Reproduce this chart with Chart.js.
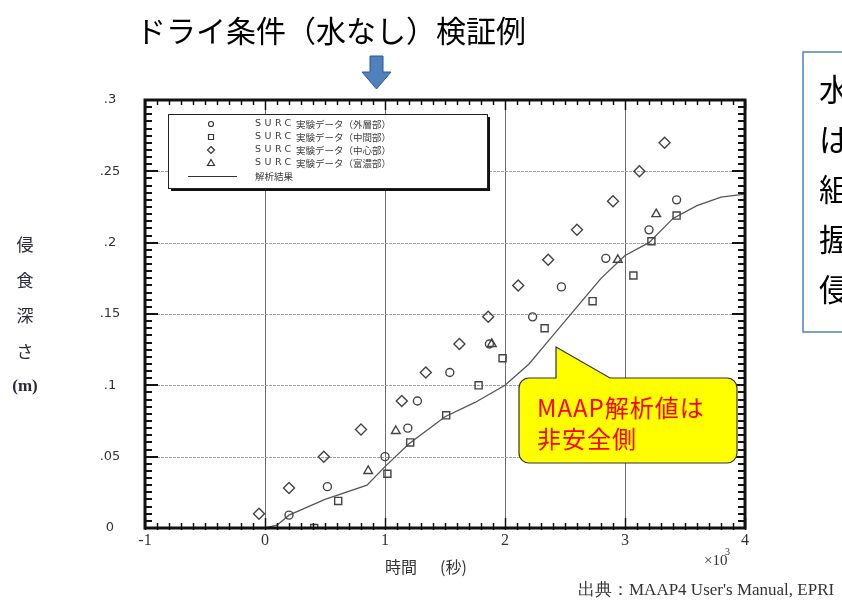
<!DOCTYPE html>
<html lang="ja">
<head>
<meta charset="UTF-8">
<script src="https://cdn.jsdelivr.net/npm/chart.js@4.4.0/dist/chart.umd.min.js"></script>
<style>
    html, body { margin: 0; padding: 0; background: #fff; }
    #wrap { position: relative; width: 842px; height: 603px; }
</style>
</head>
<body>
<div id="wrap"><canvas id="erosionChart" width="842" height="603"></canvas></div>
<script>
// ドライ条件（水なし）検証例 - SURC 実験データ vs MAAP 解析結果

// --- データ (時間 ×10^3 秒, 侵食深さ m) ---
const outerX  = [0.20, 0.52, 1.00, 1.19, 1.27, 1.54, 1.87, 2.23, 2.47, 2.84, 3.20, 3.43];
const outerY  = [0.009, 0.029, 0.050, 0.070, 0.089, 0.109, 0.129, 0.148, 0.169, 0.189, 0.209, 0.230];
const midX    = [0.41, 0.61, 1.02, 1.21, 1.51, 1.78, 1.98, 2.33, 2.73, 3.07, 3.22, 3.43];
const midY    = [0.000, 0.019, 0.038, 0.060, 0.079, 0.100, 0.119, 0.140, 0.159, 0.177, 0.201, 0.219];
const centerX = [-0.05, 0.20, 0.49, 0.80, 1.14, 1.34, 1.62, 1.86, 2.11, 2.36, 2.60, 2.90, 3.12, 3.33];
const centerY = [0.010, 0.028, 0.050, 0.069, 0.089, 0.109, 0.129, 0.148, 0.170, 0.188, 0.209, 0.229, 0.250, 0.270];
const richX   = [0.86, 1.09, 1.89, 2.94, 3.26];
const richY   = [0.040, 0.068, 0.129, 0.188, 0.220];
const analysisX = [0.00, 0.10, 0.20, 0.50, 0.85, 1.00, 1.20, 1.50, 1.75, 2.00, 2.20, 2.40, 2.60, 2.80, 3.00, 3.20, 3.40, 3.60, 3.80, 4.00];
const analysisY = [0.000, 0.002, 0.009, 0.020, 0.030, 0.043, 0.059, 0.078, 0.088, 0.100, 0.115, 0.135, 0.155, 0.175, 0.191, 0.200, 0.217, 0.226, 0.232, 0.234];

// --- 軸ラベル ---
const xTicks = [-1, 0, 1, 2, 3, 4];
const xTickLabels = ['-1', '0', '1', '2', '3', '4'];
const yTicks = [0, 0.05, 0.1, 0.15, 0.2, 0.25, 0.3];
const yTickLabels = ['0', '.05', '.1', '.15', '.2', '.25', '.3'];
const yTitleChars = ['侵', '食', '深', 'さ', '(m)'];

// --- 凡例 ---
const legendLabels = ['（外層部）', '（中間部）', '（中心部）', '（富濃部）'];
const legendShapes = ['circle', 'square', 'diamond', 'triangle'];

const toPoints = (xs, ys) => xs.map((x, i) => ({ x: x, y: ys[i] }));

// 凡例用の簡単なマーカー描画
function drawMarker(ctx, shape, x, y, r) {
    ctx.beginPath();
    if (shape === 'circle') {
        ctx.arc(x, y, r, 0, Math.PI * 2);
    } else if (shape === 'square') {
        ctx.rect(x - r, y - r, r * 2, r * 2);
    } else if (shape === 'diamond') {
        ctx.moveTo(x, y - r - 1); ctx.lineTo(x + r + 1, y); ctx.lineTo(x, y + r + 1); ctx.lineTo(x - r - 1, y); ctx.closePath();
    } else {
        ctx.moveTo(x, y - r - 1); ctx.lineTo(x + r + 1, y + r); ctx.lineTo(x - r - 1, y + r); ctx.closePath();
    }
    ctx.stroke();
}

const gridPlugin = {
    id: 'gridPlugin',
    beforeDatasetsDraw(chart) {
        const { ctx, chartArea: a, scales: { x, y } } = chart;
        ctx.save();
        // 縦グリッド
        ctx.strokeStyle = '#6d6d6d';
        ctx.lineWidth = 1;
        [0, 1, 2, 3].forEach(v => {
            const px = Math.round(x.getPixelForValue(v)) + 0.5;
            ctx.beginPath(); ctx.moveTo(px, a.top); ctx.lineTo(px, a.bottom); ctx.stroke();
        });
        // 横グリッド (点線)
        ctx.strokeStyle = '#a0a0a0';
        ctx.setLineDash([3, 1]);
        [0.05, 0.1, 0.15, 0.2, 0.25].forEach(v => {
            const py = Math.round(y.getPixelForValue(v)) + 0.5;
            ctx.beginPath(); ctx.moveTo(a.left, py); ctx.lineTo(a.right, py); ctx.stroke();
        });
        ctx.restore();
    }
};

const decorPlugin = {
    id: 'decorPlugin',
    afterDatasetsDraw(chart) {
        const { ctx, chartArea: a, scales: { x, y } } = chart;
        ctx.save();

        // --- 枠と目盛 ---
        ctx.strokeStyle = '#111';
        ctx.lineWidth = 1.5;
        for (let i = -10; i <= 40; i++) {
            const px = Math.round(x.getPixelForValue(i / 10)) + 0.5;
            const len = i % 10 === 0 ? 10 : 5;
            ctx.beginPath();
            ctx.moveTo(px, a.bottom + 2); ctx.lineTo(px, a.bottom - len);
            ctx.moveTo(px, a.top); ctx.lineTo(px, a.top + len);
            ctx.stroke();
        }
        ctx.lineWidth = 2;
        for (let i = 0; i <= 60; i++) {
            const py = Math.round(y.getPixelForValue(i * 0.005));
            const len = i % 10 === 0 ? 13 : 7;
            ctx.beginPath();
            ctx.moveTo(a.left, py); ctx.lineTo(a.left + len, py);
            ctx.moveTo(a.right, py); ctx.lineTo(a.right - len, py);
            ctx.stroke();
        }
        ctx.lineWidth = 3;
        ctx.strokeRect(a.left, a.top, a.right - a.left, a.bottom - a.top);

        // --- 目盛ラベル ---
        ctx.fillStyle = '#333';
        ctx.textBaseline = 'middle';
        ctx.textAlign = 'center';
        ctx.font = '13px "DejaVu Sans"';
        yTicks.forEach((v, i) => ctx.fillText(yTickLabels[i], 110, y.getPixelForValue(v)));
        ctx.font = '16px "Liberation Serif"';
        xTicks.forEach((v, i) => ctx.fillText(xTickLabels[i], x.getPixelForValue(v), a.bottom + 13));
        ctx.font = '15px "Liberation Serif"';
        ctx.textAlign = 'left';
        ctx.fillText('×10', 704, 561);
        ctx.font = '10px "Liberation Serif"';
        ctx.fillText('3', 725, 552);

        // --- 軸タイトル ---
        ctx.textAlign = 'left';
        ctx.font = '16px "Noto Sans CJK JP"';
        ctx.fillText('時間', 385, 567);
        ctx.fillText('(秒)', 440, 567);
        ctx.textAlign = 'center';
        ctx.fillStyle = '#2a2a3a';
        yTitleChars.forEach((c, i) => {
            ctx.font = c === '(m)' ? 'bold 17px "Liberation Serif"' : '17px "Noto Sans CJK JP"';
            ctx.fillText(c, 25, 245 + i * 35.5);
        });

        // --- 凡例 ---
        ctx.fillStyle = '#111';
        ctx.fillRect(171, 117, 319, 74);
        ctx.fillStyle = '#fff';
        ctx.fillRect(168, 114, 319, 74);
        ctx.strokeStyle = '#222';
        ctx.lineWidth = 1;
        ctx.strokeRect(168.5, 114.5, 319, 74);
        ctx.strokeStyle = '#333';
        ctx.lineWidth = 1.2;
        legendShapes.forEach((s, i) => drawMarker(ctx, s, 211, 124 + i * 13, 2.5));
        ctx.beginPath(); ctx.moveTo(188, 176.5); ctx.lineTo(237, 176.5); ctx.stroke();
        ctx.fillStyle = '#3a3a3a';
        ctx.textAlign = 'left';
        legendLabels.forEach((t, i) => {
            const ty = 124 + i * 13;
            ctx.font = '9.5px "DejaVu Sans"';
            ctx.letterSpacing = '3.5px';
            ctx.fillText('SURC', 255, ty);
            ctx.letterSpacing = '0px';
            ctx.font = '9.5px "Noto Sans CJK JP"';
            ctx.fillText('実験データ' + t, 296, ty);
        });
        ctx.fillText('解析結果', 255, 176);

        // --- タイトルと矢印 ---
        ctx.fillStyle = '#000';
        ctx.textAlign = 'center';
        ctx.font = '30px "Noto Sans CJK JP"';
        ctx.fillText('ドライ条件（水なし）検証例', 331, 31);
        ctx.beginPath();
        ctx.moveTo(370, 56); ctx.lineTo(383, 56); ctx.lineTo(383, 72); ctx.lineTo(391, 72);
        ctx.lineTo(376.5, 89); ctx.lineTo(362, 72); ctx.lineTo(370, 72); ctx.closePath();
        ctx.fillStyle = '#4f81bd'; ctx.fill();
        ctx.strokeStyle = '#2f5597'; ctx.lineWidth = 1; ctx.stroke();

        // --- 右側の説明ボックス (一部のみ表示) ---
        ctx.strokeStyle = '#4f81bd';
        ctx.lineWidth = 1.5;
        ctx.strokeRect(803, 52, 60, 280);
        ctx.fillStyle = '#000';
        ctx.textAlign = 'left';
        ctx.font = '31px "Noto Sans CJK JP"';
        ['水', 'は', '組', '握', '侵'].forEach((c, i) => ctx.fillText(c, 819, 89 + i * 50));

        // --- 吹き出し ---
        ctx.beginPath();
        ctx.moveTo(529, 378);
        ctx.lineTo(556, 378); ctx.lineTo(556, 347); ctx.lineTo(610, 378);
        ctx.lineTo(727, 378);
        ctx.arcTo(737, 378, 737, 388, 10); ctx.lineTo(737, 453);
        ctx.arcTo(737, 463, 727, 463, 10); ctx.lineTo(529, 463);
        ctx.arcTo(519, 463, 519, 453, 10); ctx.lineTo(519, 388);
        ctx.arcTo(519, 378, 529, 378, 10); ctx.closePath();
        ctx.fillStyle = '#ffff00'; ctx.fill();
        ctx.strokeStyle = '#333'; ctx.lineWidth = 1.2; ctx.stroke();
        ctx.fillStyle = '#ff0000';
        ctx.font = '24px "Noto Sans CJK JP"';
        ctx.letterSpacing = '1px';
        ctx.fillText('MAAP解析値は', 537, 408);
        ctx.fillText('非安全側', 537, 439);
        ctx.letterSpacing = '0px';

        // --- 出典 ---
        ctx.fillStyle = '#333';
        ctx.font = '17px "Liberation Serif"';
        ctx.fillText('出典：MAAP4 User\'s Manual, EPRI', 578, 591);
        ctx.restore();
    }
};

const markerStyle = { borderColor: '#444', backgroundColor: 'rgba(0,0,0,0)', pointBorderWidth: 1.4, showLine: false };

new Chart(document.getElementById('erosionChart').getContext('2d'), {
    type: 'scatter',
    data: {
        datasets: [
            { label: '外層部', data: toPoints(outerX, outerY), pointStyle: 'circle', pointRadius: 4, ...markerStyle },
            { label: '中間部', data: toPoints(midX, midY), pointStyle: 'rect', pointRadius: 5, ...markerStyle },
            { label: '中心部', data: toPoints(centerX, centerY), pointStyle: 'rectRot', pointRadius: 5.5, ...markerStyle },
            { label: '富濃部', data: toPoints(richX, richY), pointStyle: 'triangle', pointRadius: 5, ...markerStyle },
            { label: '解析結果', data: toPoints(analysisX, analysisY), showLine: true, pointRadius: 0,
              borderColor: '#555', borderWidth: 1.3, tension: 0, fill: false }
        ]
    },
    options: {
        responsive: false,
        animation: false,
        devicePixelRatio: 1,
        layout: { padding: { left: 145, right: 97, top: 100, bottom: 75 } },
        scales: {
            x: { type: 'linear', min: -1, max: 4, display: false },
            y: { type: 'linear', min: 0, max: 0.3, display: false }
        },
        plugins: { legend: { display: false }, tooltip: { enabled: false } }
    },
    plugins: [gridPlugin, decorPlugin]
});
</script>
</body>
</html>
